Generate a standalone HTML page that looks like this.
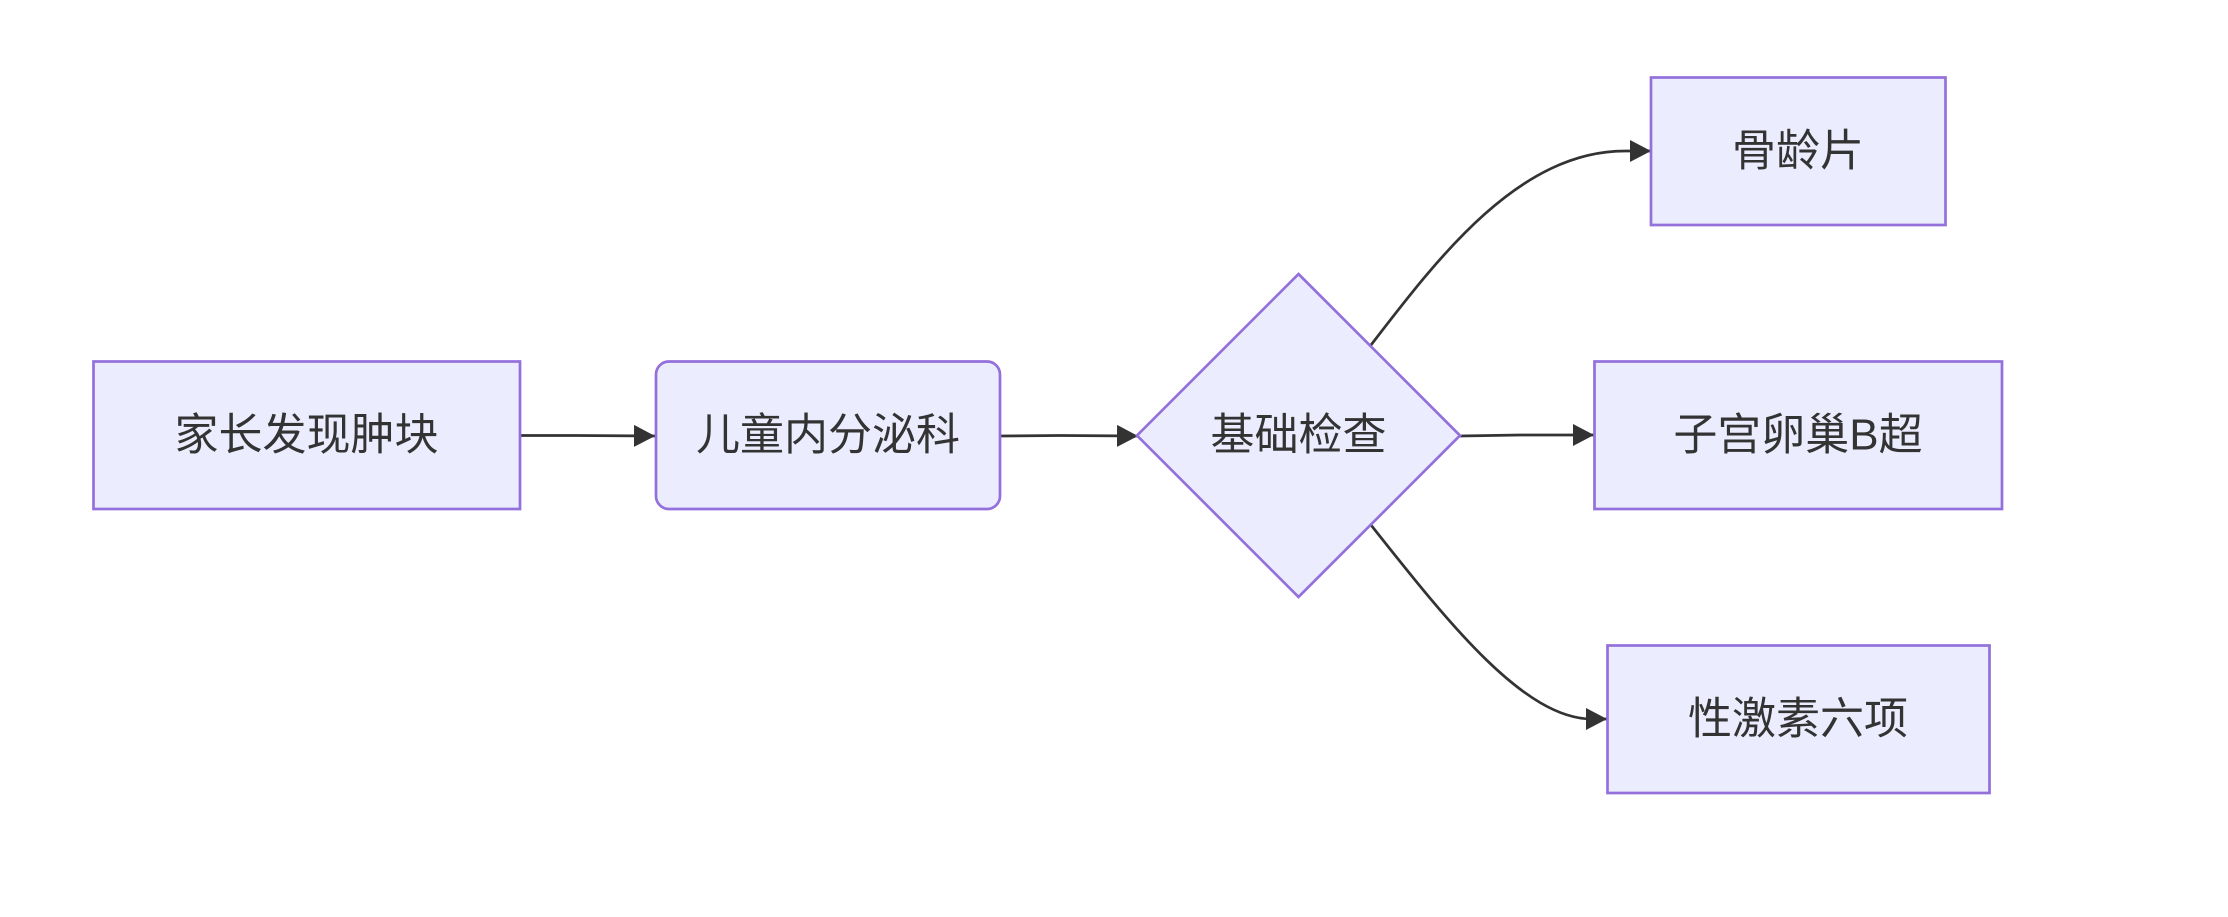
<!DOCTYPE html>
<html>
<head>
<meta charset="utf-8">
<style>
  html, body { margin:0; padding:0; background:#ffffff; }
  svg { display:block; }
  text { font-family: "Liberation Sans", "Noto Sans CJK SC", sans-serif; font-size:44px; fill:#333333; }
</style>
</head>
<body>
<svg width="2228" height="917" viewBox="0 0 2228 917" xmlns="http://www.w3.org/2000/svg">
  <defs>
    <marker id="ah" markerWidth="21" markerHeight="22" refX="21" refY="11" orient="auto" markerUnits="userSpaceOnUse">
      <path d="M0,0 L21,11 L0,22 Z" fill="#333333"/>
    </marker>
  </defs>

  <!-- edges -->
  <path d="M520,435.5 L576,435.5 L655,436" fill="none" stroke="#333333" stroke-width="2.7" marker-end="url(#ah)"/>
  <path d="M1000,436 L1060,435.5 L1138,436" fill="none" stroke="#333333" stroke-width="2.7" marker-end="url(#ah)"/>
  <path d="M1460,436 L1520,435 L1594,435" fill="none" stroke="#333333" stroke-width="2.7" marker-end="url(#ah)"/>
  <path d="M1371,345 C1440,255 1520,151 1625,151 L1651,151" fill="none" stroke="#333333" stroke-width="2.7" marker-end="url(#ah)"/>
  <path d="M1371,525 C1450,625 1525,719 1592,719 L1607,719" fill="none" stroke="#333333" stroke-width="2.7" marker-end="url(#ah)"/>

  <!-- nodes -->
  <rect x="93.5" y="361.5" width="426.5" height="147.5" fill="#ECECFF" stroke="#9370DB" stroke-width="2.7"/>
  <text x="306.5" y="435" text-anchor="middle" dominant-baseline="central">家长发现肿块</text>

  <rect x="656" y="361.5" width="344" height="147.5" rx="13" ry="13" fill="#ECECFF" stroke="#9370DB" stroke-width="2.7"/>
  <text x="828" y="435" text-anchor="middle" dominant-baseline="central">儿童内分泌科</text>

  <polygon points="1298.5,274 1460,435.5 1298.5,597 1137,435.5" fill="#ECECFF" stroke="#9370DB" stroke-width="2.7"/>
  <text x="1298.5" y="435" text-anchor="middle" dominant-baseline="central">基础检查</text>

  <rect x="1651" y="77.5" width="294.5" height="147.5" fill="#ECECFF" stroke="#9370DB" stroke-width="2.7"/>
  <text x="1798" y="151" text-anchor="middle" dominant-baseline="central">骨龄片</text>

  <rect x="1594.5" y="361.5" width="407.5" height="147.5" fill="#ECECFF" stroke="#9370DB" stroke-width="2.7"/>
  <text x="1798" y="435" text-anchor="middle" dominant-baseline="central">子宫卵巢B超</text>

  <rect x="1607.5" y="645.5" width="382" height="147.5" fill="#ECECFF" stroke="#9370DB" stroke-width="2.7"/>
  <text x="1798" y="719" text-anchor="middle" dominant-baseline="central">性激素六项</text>
</svg>
</body>
</html>
